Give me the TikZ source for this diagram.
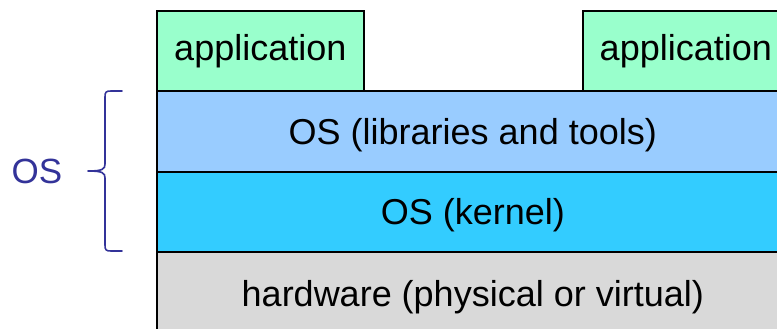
\documentclass[tikz,border=0pt]{standalone}
\usepackage{fontspec}
\setmainfont{Liberation Sans}
\definecolor{appgreen}{HTML}{99FFCC}
\definecolor{libblue}{HTML}{99CCFF}
\definecolor{kernblue}{HTML}{33CCFF}
\definecolor{hwgray}{HTML}{D9D9D9}
\definecolor{osblue}{HTML}{333399}
\begin{document}
\begin{tikzpicture}[x=1pt,y=-1pt,
  layer/.style={draw=black, line width=1.6pt, rectangle, anchor=north west, inner sep=0pt,
    font=\fontsize{36}{43}\selectfont, text=black},
  capcenter/.style={text height=25.8pt, text depth=0pt},
  bracestyle/.style={draw=osblue, line width=1.6pt, line cap=round, line join=round}]
\useasboundingbox (0,0) rectangle (777,329);
\clip (0,0) rectangle (777,329);
\fill[white] (0,0) rectangle (777,329);
\node[layer, fill=appgreen, minimum width=207pt, minimum height=80pt] (app1) at (156,10) {application};
\node[layer, fill=appgreen, minimum width=206pt, minimum height=80pt] (app2) at (582,10) {application};
\node[layer, capcenter, fill=libblue, minimum width=632pt, minimum height=81pt] (libs) at (156,90) {OS (libraries and tools)};
\node[layer, capcenter, fill=kernblue, minimum width=632pt, minimum height=80pt] (kern) at (156,171) {OS (kernel)};
\node[layer, capcenter, fill=hwgray, minimum width=632pt, minimum height=83pt] (hw) at (156,251) {hardware (physical or virtual)};
\coordinate (btop) at (122,91);
\coordinate (bbot) at (122,251);
\coordinate (btip) at (88,171);
\draw[bracestyle] (btop) -- (111,91) .. controls (106,91) and (105,92) .. (105,97)
  -- (105,164) .. controls (105,169) and (103,171) .. (btip)
  .. controls (103,171) and (105,173) .. (105,178)
  -- (105,245) .. controls (105,250) and (106,251) .. (111,251) -- (bbot);
\node[font=\fontsize{35}{42}\selectfont, text=osblue, inner sep=0pt] (oslabel) at (37,171) {OS};
\end{tikzpicture}
\end{document}
